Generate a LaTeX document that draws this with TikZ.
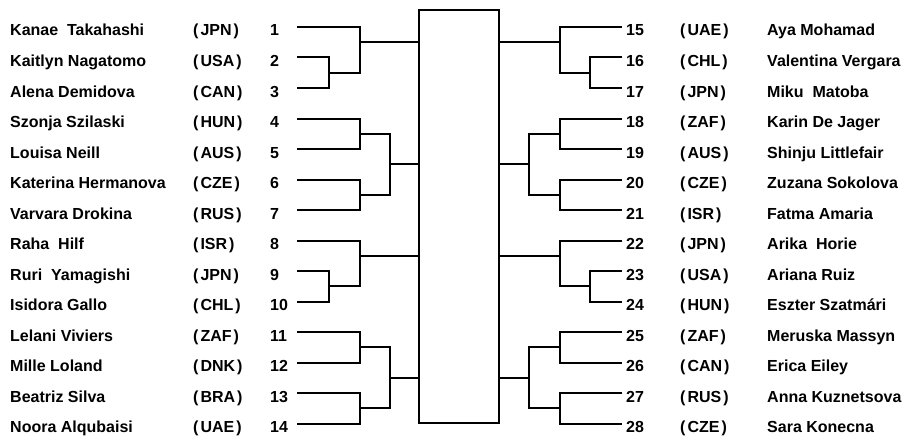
\documentclass[tikz,border=0pt]{standalone}
\usepackage{fontspec}
\setmainfont{Liberation Sans}
\usetikzlibrary{calc}
\tikzset{
  player/.style={anchor=base west,inner sep=0pt,font=\bfseries\fontsize{16}{18}\selectfont},
  bracket/.style={line width=2pt},
  finalbox/.style={draw,line width=2pt,minimum width=80pt,minimum height=413pt,inner sep=0pt},
}
\newcommand\nation[1]{(\kern2pt#1\kern2pt)}

\begin{document}
\begin{tikzpicture}[x=1pt,y=-1pt]
  \useasboundingbox (0,0) rectangle (912,436);
  \node[finalbox] (box) at (459,216.5) {};
  % left half
  \foreach \k/\nm/\cc in {1/Kanae\ \ Takahashi/JPN,2/Kaitlyn Nagatomo/USA,3/Alena Demidova/CAN,
      4/Szonja Szilaski/HUN,5/Louisa Neill/AUS,6/Katerina Hermanova/CZE,7/Varvara Drokina/RUS,
      8/Raha\ \ Hilf/ISR,9/Ruri\ \ Yamagishi/JPN,10/Isidora Gallo/CHL,11/Lelani Viviers/ZAF,
      12/Mille Loland/DNK,13/Beatriz Silva/BRA,14/Noora Alqubaisi/UAE}{
    \pgfmathsetmacro\yy{27+(\k-1)*30.5}
    \node[player] (nm\k) at (10,\yy+9) {\nm};
    \node[player] (ct\k) at (193,\yy+9) {\nation{\cc}};
    \node[player] (sd\k) at (270,\yy+9) {\k};
    \coordinate (r\k) at (297,\yy);
  }
  % right half
  \foreach \k/\nm/\cc in {15/Aya Mohamad/UAE,16/Valentina Vergara/CHL,17/Miku\ \ Matoba/JPN,
      18/Karin De Jager/ZAF,19/Shinju Littlefair/AUS,20/Zuzana Sokolova/CZE,21/Fatma Amaria/ISR,
      22/Arika\ \ Horie/JPN,23/Ariana Ruiz/USA,24/Eszter Szatmári/HUN,25/Meruska Massyn/ZAF,
      26/Erica Eiley/CAN,27/Anna Kuznetsova/RUS,28/Sara Konecna/CZE}{
    \pgfmathsetmacro\yy{27+(\k-15)*30.5}
    \node[player] (sd\k) at (626,\yy+9) {\k};
    \node[player] (ct\k) at (680,\yy+9) {\nation{\cc}};
    \node[player] (nm\k) at (767,\yy+9) {\nm};
    \coordinate (r\k) at (622,\yy);
  }
  % left brackets
  \coordinate (c23) at ($(r2)!.5!(r3)+(32,0)$);
  \coordinate (c1) at ($(r1)!.5!(r2)+(63,0)$);
  \coordinate (c45) at ($(r4)!.5!(r5)+(63,0)$);
  \coordinate (c67) at ($(r6)!.5!(r7)+(63,0)$);
  \coordinate (c47) at ($(c45)!.5!(c67)+(30,0)$);
  \coordinate (c910) at ($(r9)!.5!(r10)+(32,0)$);
  \coordinate (c8) at ($(r8)!.5!(r9)+(63,0)$);
  \coordinate (c1112) at ($(r11)!.5!(r12)+(63,0)$);
  \coordinate (c1314) at ($(r13)!.5!(r14)+(63,0)$);
  \coordinate (c1114) at ($(c1112)!.5!(c1314)+(30,0)$);
  \draw[bracket] (r2) -| (c23) |- (r3);
  \draw[bracket] (r1) -| (c1) |- (c23);
  \draw[bracket] (r4) -| (c45) |- (r5);
  \draw[bracket] (r6) -| (c67) |- (r7);
  \draw[bracket] (c45) -| (c47) |- (c67);
  \draw[bracket] (r9) -| (c910) |- (r10);
  \draw[bracket] (r8) -| (c8) |- (c910);
  \draw[bracket] (r11) -| (c1112) |- (r12);
  \draw[bracket] (r13) -| (c1314) |- (r14);
  \draw[bracket] (c1112) -| (c1114) |- (c1314);
  \foreach \c in {c1,c47,c8,c1114}{\draw[bracket] (\c) -- (\c -| box.west);}
  % right brackets
  \coordinate (c1617) at ($(r16)!.5!(r17)+(-32,0)$);
  \coordinate (c15) at ($(r15)!.5!(r16)+(-62,0)$);
  \coordinate (c1819) at ($(r18)!.5!(r19)+(-62,0)$);
  \coordinate (c2021) at ($(r20)!.5!(r21)+(-62,0)$);
  \coordinate (c1821) at ($(c1819)!.5!(c2021)+(-31,0)$);
  \coordinate (c2324) at ($(r23)!.5!(r24)+(-32,0)$);
  \coordinate (c22) at ($(r22)!.5!(r23)+(-62,0)$);
  \coordinate (c2526) at ($(r25)!.5!(r26)+(-62,0)$);
  \coordinate (c2728) at ($(r27)!.5!(r28)+(-62,0)$);
  \coordinate (c2528) at ($(c2526)!.5!(c2728)+(-31,0)$);
  \draw[bracket] (r16) -| (c1617) |- (r17);
  \draw[bracket] (r15) -| (c15) |- (c1617);
  \draw[bracket] (r18) -| (c1819) |- (r19);
  \draw[bracket] (r20) -| (c2021) |- (r21);
  \draw[bracket] (c1819) -| (c1821) |- (c2021);
  \draw[bracket] (r23) -| (c2324) |- (r24);
  \draw[bracket] (r22) -| (c22) |- (c2324);
  \draw[bracket] (r25) -| (c2526) |- (r26);
  \draw[bracket] (r27) -| (c2728) |- (r28);
  \draw[bracket] (c2526) -| (c2528) |- (c2728);
  \foreach \c in {c15,c1821,c22,c2528}{\draw[bracket] (\c) -- (\c -| box.east);}
\end{tikzpicture}
\end{document}
